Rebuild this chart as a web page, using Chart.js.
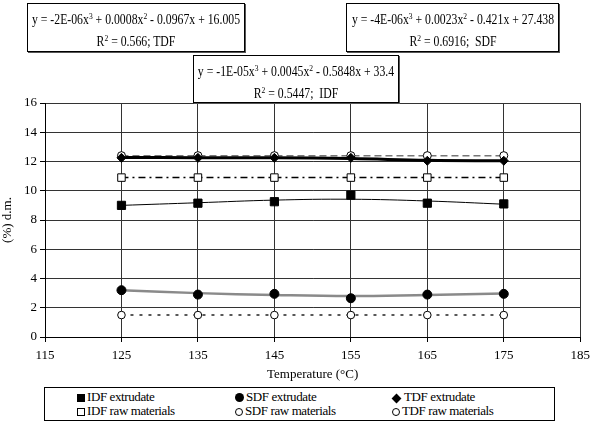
<!DOCTYPE html>
<html>
<head>
<meta charset="utf-8">
<script src="https://cdn.jsdelivr.net/npm/chart.js@4"></script>
<style>
    body { margin: 0; background: #fff; }
    #wrap { position: relative; width: 596px; height: 422px; font-family: "Liberation Serif", "Times New Roman", serif; color: #000; }
    #chart { position: absolute; left: 0; top: 0; }
    .eq { position: absolute; border: 1px solid #000; box-shadow: 1px 1px 0 #555; background: #fff; box-sizing: border-box; font-size: 14px; }
    .eq .ln { position: absolute; left: 50%; white-space: nowrap; transform: translateX(-50%) scaleX(0.84); line-height: 16px; }
    .eq sup { font-size: 9px; line-height: 0; vertical-align: 5px; }
    #legend { position: absolute; left: 44px; top: 387px; width: 511px; height: 34px; border: 1px solid #000; box-sizing: border-box; font-size: 13px; letter-spacing: -0.4px; }
    .item { position: absolute; line-height: 14px; white-space: nowrap; }
    .mk { display: inline-block; vertical-align: -1px; margin-right: 2px; box-sizing: border-box; }
    .sq { width: 8px; height: 8px; background: #000; }
    .osq { width: 8px; height: 8px; border: 1px solid #000; }
    .ci { width: 9px; height: 9px; border-radius: 50%; background: #000; }
    .oci { width: 8px; height: 8px; border-radius: 50%; border: 1px solid #000; }
    .di { width: 7px; height: 7px; background: #000; transform: rotate(45deg); margin-right: 4px; margin-left: 1px; }
</style>
</head>
<body>
<div id="wrap">
    <canvas id="chart" width="596" height="382"></canvas>

    <div class="eq" style="left:27px; top:3px; width:218px; height:49px;">
        <div class="ln" style="top:8px;">y = -2E-06x<sup>3</sup> + 0.0008x<sup>2</sup> - 0.0967x + 16.005</div>
        <div class="ln" style="top:30px;">R<sup>2</sup> = 0.566; TDF</div>
    </div>
    <div class="eq" style="left:346px; top:3px; width:213px; height:49px;">
        <div class="ln" style="top:8px;">y = -4E-06x<sup>3</sup> + 0.0023x<sup>2</sup> - 0.421x + 27.438</div>
        <div class="ln" style="top:30px;">R<sup>2</sup> = 0.6916;&nbsp; SDF</div>
    </div>
    <div class="eq" style="left:193px; top:55px; width:206px; height:48px;">
        <div class="ln" style="top:8px;">y = -1E-05x<sup>3</sup> + 0.0045x<sup>2</sup> - 0.5848x + 33.4</div>
        <div class="ln" style="top:30px;">R<sup>2</sup> = 0.5447;&nbsp; IDF</div>
    </div>

    <div id="legend">
        <div class="item" style="left:32px; top:2px;"><span class="mk sq"></span>IDF extrudate</div>
        <div class="item" style="left:32px; top:16px;"><span class="mk osq"></span>IDF raw materials</div>
        <div class="item" style="left:190px; top:2px;"><span class="mk ci"></span>SDF extrudate</div>
        <div class="item" style="left:190px; top:16px;"><span class="mk oci"></span>SDF raw materials</div>
        <div class="item" style="left:347px; top:2px;"><span class="mk di"></span>TDF extrudate</div>
        <div class="item" style="left:347px; top:16px;"><span class="mk oci"></span>TDF raw materials</div>
    </div>
</div>

<script>
// Datos
const temperatures = [125, 135, 145, 155, 165, 175];
const xTicks = [115, 125, 135, 145, 155, 165, 175, 185];

const idfExtrudate = [9.0, 9.15, 9.25, 9.7, 9.15, 9.1];
const idfRaw = [10.9, 10.9, 10.9, 10.9, 10.9, 10.9];
const sdfExtrudate = [3.2, 2.9, 2.95, 2.65, 2.9, 2.95];
const sdfRaw = [1.5, 1.5, 1.5, 1.5, 1.5, 1.5];
const tdfExtrudate = [12.25, 12.25, 12.25, 12.25, 12.05, 12.05];
const tdfRaw = [12.4, 12.4, 12.4, 12.4, 12.4, 12.4];

const idfTrend = [9.0, 9.18, 9.36, 9.42, 9.3, 9.08];
const sdfTrend = [3.2, 3.0, 2.87, 2.8, 2.88, 2.97];
const tdfTrend = [12.27, 12.26, 12.25, 12.2, 12.08, 12.05];

const FONT = '"Liberation Serif", "Times New Roman", serif';

function toPoints(values) {
    return temperatures.map((t, i) => ({ x: t, y: values[i] }));
}

function markerSet(label, values, style, radius, filled) {
    return {
        label: label,
        data: toPoints(values),
        showLine: false,
        pointStyle: style,
        pointRadius: radius,
        pointBackgroundColor: filled ? '#000' : '#fff',
        pointBorderColor: '#000',
        pointBorderWidth: 1
    };
}

function lineSet(label, values, color, width, dash, tension) {
    return {
        label: label,
        data: toPoints(values),
        showLine: true,
        borderColor: color,
        borderWidth: width,
        borderDash: dash,
        tension: tension,
        pointRadius: 0,
        fill: false
    };
}

// El primer dataset se dibuja encima
const datasets = [
    markerSet('IDF extrudate', idfExtrudate, 'rect', 5.8, true),
    markerSet('IDF raw materials', idfRaw, 'rect', 5.3, false),
    markerSet('SDF extrudate', sdfExtrudate, 'circle', 4.5, true),
    markerSet('SDF raw materials', sdfRaw, 'circle', 3.8, false),
    markerSet('TDF extrudate', tdfExtrudate, 'rectRot', 4.5, true),
    markerSet('TDF raw materials', tdfRaw, 'circle', 4, false),
    lineSet('IDF trend', idfTrend, '#000', 1, [], 0.4),
    lineSet('SDF trend', sdfTrend, '#8a8a8a', 2.5, [], 0.4),
    lineSet('TDF trend', tdfTrend, '#000', 3, [], 0.4),
    lineSet('IDF raw line', idfRaw, '#000', 1.5, [7, 4, 2, 4], 0),
    lineSet('SDF raw line', sdfRaw, '#222', 1.5, [3, 6], 0),
    lineSet('TDF raw line', tdfRaw, '#777', 1.5, [7, 4], 0)
];

const ctx = document.getElementById('chart').getContext('2d');
const chart = new Chart(ctx, {
    type: 'scatter',
    data: { datasets: datasets },
    options: {
        responsive: false,
        animation: false,
        layout: { padding: { top: 103, right: 10, left: 0, bottom: 0 } },
        plugins: {
            legend: { display: false },
            tooltip: { enabled: false }
        },
        scales: {
            x: {
                type: 'linear',
                min: 115,
                max: 185,
                afterBuildTicks: scale => { scale.ticks = xTicks.map(v => ({ value: v })); },
                afterFit: scale => { scale.height = 45; },
                grid: { color: '#333', lineWidth: 1, tickLength: 5, tickColor: '#000' },
                border: { color: '#000', width: 1 },
                ticks: { color: '#000', font: { family: FONT, size: 13 }, padding: 6, maxRotation: 0 },
                title: { display: true, text: 'Temperature (°C)', color: '#000', font: { family: FONT, size: 13 }, padding: { top: 2, bottom: 0 } }
            },
            y: {
                min: 0,
                max: 16,
                afterFit: scale => { scale.width = 45; },
                grid: { color: '#333', lineWidth: 1, tickLength: 5, tickColor: '#000' },
                border: { color: '#000', width: 1 },
                ticks: { stepSize: 2, color: '#000', font: { family: FONT, size: 13 }, padding: 3 },
                title: { display: true, text: '(%) d.m.', color: '#000', font: { family: FONT, size: 13 }, padding: 0 }
            }
        }
    }
});
</script>
</body>
</html>
